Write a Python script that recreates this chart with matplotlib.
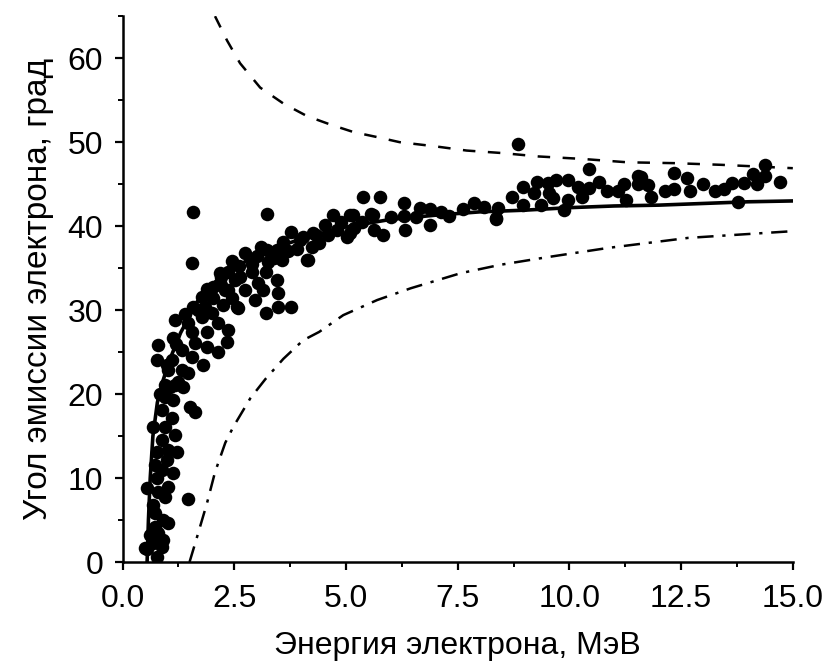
import matplotlib.pyplot as plt
from matplotlib.ticker import MultipleLocator

# measured points (energy MeV, angle deg)
dots_x = [
    0.51, 0.55, 0.77, 0.68, 0.88, 0.91, 0.62, 0.79, 0.73, 1.02, 0.91, 0.73, 0.68, 0.95, 1.47,
    0.79, 0.55, 1.02, 0.77, 1.13, 0.88, 0.73, 1.00, 0.77, 1.02, 1.22, 0.88, 1.18, 0.68, 0.95,
    1.11, 0.88, 1.51, 1.63, 1.13, 0.95, 0.95, 1.18, 1.36, 1.07, 1.24, 1.02, 1.33, 1.47, 0.77,
    1.11, 1.56, 1.80, 0.79, 1.33, 2.14, 1.63, 1.89, 2.34, 1.13, 1.56, 1.89, 2.37, 1.18, 1.47,
    2.14, 1.78, 2.00, 1.58, 1.85, 2.25, 2.59, 1.78, 2.03, 2.30, 2.03, 2.52, 2.19, 2.45, 1.56,
    1.58, 3.24, 0.85, 1.00, 1.20, 1.70, 1.90, 2.20, 1.40,
    2.35, 2.75, 3.01, 3.24, 3.46, 3.60, 3.76, 4.03, 4.27, 3.26, 3.58, 4.16, 3.20, 2.90, 2.63,
    3.46, 3.04, 2.37, 2.75, 3.15, 3.49, 2.97, 2.57, 3.49, 3.76, 3.20, 2.45, 3.98, 4.13, 4.25,
    4.32, 4.54, 4.72, 5.10, 5.17, 5.03, 5.55, 5.39, 5.77, 6.29, 6.33, 6.65, 6.87, 6.87, 7.12,
    7.30, 7.63, 7.86, 8.10, 8.35, 6.00, 6.29, 6.56, 5.60, 5.62, 5.82, 5.15, 5.10, 5.37,
    2.90, 3.10, 3.40, 3.70, 3.90, 4.40, 4.60, 4.80, 4.90, 2.60, 2.20,
    8.85, 8.40, 8.35, 8.71, 8.96, 8.96, 9.27, 9.20, 9.36, 9.52, 9.54, 9.63, 9.70, 9.87, 9.97,
    9.97, 10.19, 10.28, 10.44, 10.44, 10.66, 10.84, 11.09, 11.22, 11.27, 11.53, 11.53,
    11.60, 11.76, 11.83, 12.14, 12.35, 12.35, 12.64, 12.70, 13.00, 13.26, 13.46, 13.64, 13.78,
    13.91, 14.11, 14.20, 14.38, 14.38, 14.72,
]
dots_y = [
    1.7, 1.5, 0.6, 2.3, 1.8, 2.6, 3.2, 3.4, 4.2, 4.6, 5.0, 5.8, 6.8, 7.7, 7.5,
    8.3, 8.8, 8.9, 10.0, 10.6, 11.0, 11.5, 12.1, 13.1, 13.3, 13.1, 14.5, 15.1, 16.1, 16.1,
    17.1, 18.1, 18.5, 17.9, 19.3, 19.6, 21.1, 21.1, 20.8, 20.8, 21.4, 22.9, 22.9, 22.5, 24.0,
    24.0, 24.4, 23.5, 25.8, 25.2, 25.0, 26.1, 25.6, 26.2, 26.7, 27.4, 27.4, 27.6, 28.8, 28.5,
    28.5, 29.2, 29.6, 30.4, 30.4, 30.6, 30.2, 31.6, 31.4, 32.4, 32.8, 33.6, 34.4, 35.8, 35.6,
    41.7, 41.5, 20.0, 23.5, 26.0, 30.0, 32.5, 33.0, 29.5,
    34.5, 36.8, 36.5, 37.1, 37.1, 38.1, 39.3, 38.7, 39.2, 35.7, 36.0, 36.0, 34.5, 34.5, 33.9,
    33.6, 33.2, 32.4, 32.4, 32.4, 32.0, 31.2, 30.4, 30.4, 30.4, 29.6, 31.4, 38.3, 36.0, 37.5,
    38.9, 40.1, 41.3, 41.3, 39.8, 38.7, 41.5, 43.5, 43.5, 42.7, 39.5, 42.1, 42.0, 40.1, 41.7,
    41.2, 42.0, 42.7, 42.3, 41.0, 41.1, 41.2, 41.1, 41.3, 39.5, 39.0, 41.3, 39.2, 40.5,
    35.5, 37.5, 36.2, 37.0, 37.3, 38.0, 39.0, 39.5, 40.5, 35.2, 34.0,
    49.8, 42.1, 40.8, 43.5, 44.7, 42.5, 45.2, 43.9, 42.5, 45.1, 43.9, 43.3, 45.5, 41.9, 45.5,
    43.1, 44.7, 43.5, 46.8, 44.5, 45.2, 44.2, 44.2, 45.0, 43.1, 46.0, 45.0,
    45.8, 44.9, 43.5, 44.2, 46.3, 44.4, 45.7, 44.2, 45.0, 44.2, 44.4, 45.1, 42.9,
    45.1, 46.2, 45.0, 47.3, 46.0, 45.2,
]

# fitted curve
fit_x = [0.55, 0.58, 0.62, 0.68, 0.78, 0.90, 1.05, 1.30, 1.67, 2.10, 2.75, 3.50, 4.20,
         5.00, 6.00, 7.00, 8.00, 9.00, 10.0, 11.0, 12.0, 13.0, 14.0, 15.0]
fit_y = [0.0, 5.0, 10.0, 15.0, 19.0, 21.5, 24.0, 27.3, 31.0, 33.5, 35.8, 37.6, 38.8,
         39.9, 40.8, 41.3, 41.7, 41.9, 42.2, 42.4, 42.5, 42.7, 42.9, 43.0]

# upper bound (dashed)
upper_x = [2.07, 2.34, 2.63, 3.08, 3.60, 4.13, 4.65, 5.17, 5.70, 6.20, 7.00, 7.70, 8.50,
           9.30, 10.3, 11.3, 12.35, 13.4, 14.2, 15.0]
upper_y = [65.0, 62.1, 59.4, 56.5, 54.6, 53.1, 52.1, 51.2, 50.6, 50.0, 49.5, 49.0, 48.7,
           48.3, 48.0, 47.6, 47.5, 47.3, 47.1, 46.9]

# lower bound (dash-dot)
lower_x = [1.50, 1.63, 1.89, 2.07, 2.30, 2.48, 2.86, 3.20, 3.60, 4.04, 4.40, 4.94, 5.70,
           6.45, 7.57, 8.46, 9.50, 10.86, 12.66, 15.0]
lower_y = [0.0, 2.3, 7.0, 10.7, 14.2, 16.1, 19.5, 21.8, 24.2, 26.4, 27.4, 29.4, 31.2,
           32.6, 34.4, 35.4, 36.3, 37.4, 38.6, 39.4]

plt.rcParams["font.family"] = ["Liberation Sans", "DejaVu Sans"]

fig = plt.figure(figsize=(8.25, 6.64), dpi=100)
ax = fig.add_axes([0.1485, 0.1536, 0.8125, 0.822])

ax.scatter(dots_x, dots_y, s=95, color="black", linewidths=0, zorder=3)
ax.plot(fit_x, fit_y, color="black", linewidth=2.6, zorder=4)
ax.plot(upper_x, upper_y, color="black", linewidth=1.8, dashes=(5, 5))
ax.plot(lower_x, lower_y, color="black", linewidth=1.8, dashes=(6.5, 3.5, 1.3, 3.5))

ax.set_xlim(0, 15)
ax.set_ylim(0, 65)
ax.xaxis.set_major_locator(MultipleLocator(2.5))
ax.xaxis.set_minor_locator(MultipleLocator(1.25))
ax.yaxis.set_major_locator(MultipleLocator(10))
ax.yaxis.set_minor_locator(MultipleLocator(5))
ax.xaxis.set_major_formatter(lambda v, p: f"{v:.1f}")

for side in ("top", "right"):
    ax.spines[side].set_visible(False)
for side in ("left", "bottom"):
    ax.spines[side].set_linewidth(1.8)

ax.tick_params(which="major", direction="out", length=6, width=1.6, labelsize=23, pad=8)
ax.tick_params(axis="x", which="major", pad=10)
ax.tick_params(which="minor", direction="out", length=3.5, width=1.4)

ax.set_xlabel("Энергия электрона, МэВ", fontsize=23, labelpad=12)
ax.set_ylabel("Угол эмиссии электрона, град", fontsize=24, labelpad=10)

fig.savefig("out.png", dpi=100)
